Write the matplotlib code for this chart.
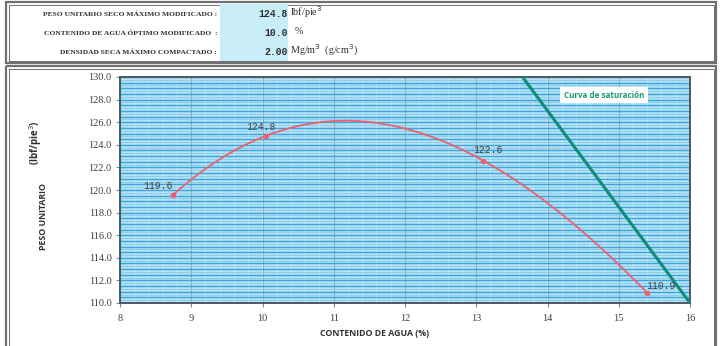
import numpy as np
import matplotlib
matplotlib.use("Agg")
import matplotlib.pyplot as plt
from matplotlib.patches import Rectangle, Arc

# Compaction test points
water = [8.75, 10.05, 13.1, 15.4]
density = [119.6, 124.8, 122.6, 110.9]
# Saturation line end points
sat_w = [13.65, 16.0]
sat_d = [130.0, 110.0]

x_ticks = [8, 9, 10, 11, 12, 13, 14, 15, 16]
y_ticks = [110, 112, 114, 116, 118, 120, 122, 124, 126, 128, 130]

summary_labels = ["PESO UNITARIO SECO MÁXIMO MODIFICADO :",
                  "CONTENIDO DE AGUA ÓPTIMO MODIFICADO  :",
                  "DENSIDAD SECA MÁXIMO COMPACTADO :"]
summary_values = ["124.8", "10.0", "2.00"]
summary_units = [r"lbf/pie$^3$", "  %", r"Mg/m$^3$  (g/cm$^3$)"]

W, H = 721, 346
fig = plt.figure(figsize=(W / 100, H / 100), dpi=100)
fig.patch.set_facecolor("white")

# overlay axes in pixel coordinates for the frames and header text
ov = fig.add_axes([0, 0, 1, 1])
ov.set_xlim(0, W)
ov.set_ylim(H, 0)
ov.axis("off")

# header frame (double line)
for inset, lw in [(0, 1.6), (2.5, 0.7)]:
    ov.add_patch(Rectangle((6 + inset, 2 + inset), 710 - 2 * inset, 61 - 2 * inset,
                           fill=False, ec="#707070", lw=lw))
ov.add_patch(Rectangle((220, 4), 68, 57, fc="#c9edf6", ec="none"))
rows_y = [14, 33, 52]
for yy, lab, val, unit in zip(rows_y, summary_labels, summary_values, summary_units):
    ov.text(217, yy, lab, ha="right", va="center", fontsize=5.4,
            family="Liberation Serif", weight="bold", color="#303030")
    ov.text(288, yy, val, ha="right", va="center", fontsize=7,
            family="Liberation Mono", weight="bold", color="#303030")
    ov.text(290, yy - 1.5, unit, ha="left", va="center", fontsize=7.3,
            family="Liberation Serif", color="#303030")

# chart frame (double line)
for inset, lw in [(0, 1.6), (2.5, 0.7)]:
    ov.add_patch(Rectangle((6 + inset, 66 + inset), 710 - 2 * inset, 290,
                           fill=False, ec="#707070", lw=lw))

# stamp arc in the lower right
ov.add_patch(Arc((700, 400), 130, 140, theta1=95, theta2=175,
                 color="#5a5fc8", lw=1.0, alpha=0.8))

ax = fig.add_axes([120 / W, 1 - 303 / H, 570 / W, 226 / H])
ax.set_facecolor("#b2e0f4")
ax.set_xlim(8, 16)
ax.set_ylim(110, 130)

# grid: vertical minor white, vertical major gray, dense blue horizontals
for xv in np.arange(8, 16.01, 0.2):
    ax.axvline(xv, color="#e2f4fb", lw=0.6, zorder=0.5)
for xv in x_ticks:
    ax.axvline(xv, color="#9aa8b0", lw=0.8, zorder=0.6)
for yv in np.arange(110, 130.01, 0.5):
    ax.axhline(yv, color="#3aa4dc", lw=1.0, zorder=0.7)
for yv in np.arange(110.25, 130, 0.5):
    ax.axhline(yv, color="#86cbec", lw=0.6, zorder=0.6)

# compaction curve (cubic through the test points)
coef = np.polyfit(water, density, 3)
xs = np.linspace(min(water), max(water), 200)
ax.plot(xs, np.polyval(coef, xs), color="#ec5f6e", lw=1.3, zorder=3)
ax.plot(water, density, "o", ms=3, color="#ec5f6e", zorder=4)
offsets = [(-11, 6), (-4, 6), (3, 8), (10, 5)]
for w, d, off in zip(water, density, offsets):
    ax.annotate(f"{d:.1f}", (w, d), xytext=off, textcoords="offset points",
                ha="center", va="center", fontsize=7, family="Liberation Mono",
                color="#404040", zorder=5)

# saturation line
ax.plot(sat_w, sat_d, color="#108c78", lw=2.2, zorder=3, clip_on=True)
ax.text(0.849, 0.92, "Curva de saturación", transform=ax.transAxes,
        ha="center", va="center", fontsize=5.8, weight="bold", color="#169a78",
        family="Open Sans",
        bbox=dict(boxstyle="square,pad=0.45", fc="white", ec="none"), zorder=6)

ax.set_xticks(x_ticks)
ax.set_xticklabels([str(v) for v in x_ticks], fontfamily="Liberation Serif",
                   fontsize=7.5)
ax.set_yticks(y_ticks)
ax.set_yticklabels([f"{v:.1f}" for v in y_ticks], fontfamily="Liberation Serif",
                   fontsize=7.5)
ax.tick_params(axis="both", length=3, color="#888888",
               labelcolor="#404040", pad=3)
ax.tick_params(axis="x", pad=5)
for sp in ax.spines.values():
    sp.set_color("#4a5a60")
    sp.set_linewidth(1.4)

ov.text(375, 333, "CONTENIDO DE AGUA (%)", ha="center", va="center",
        fontsize=6.3, weight="bold", color="#303030", family="Open Sans")
ov.text(44, 217, "PESO UNITARIO", ha="center", va="center", rotation=90,
        fontsize=6.3, weight="bold", color="#303030", family="Open Sans")
ov.text(36, 143, r"(lbf/pie$^3$)", ha="center", va="center", rotation=90,
        fontsize=7, weight="bold", color="#303030", family="Open Sans")

fig.savefig("out.png", dpi=100)
